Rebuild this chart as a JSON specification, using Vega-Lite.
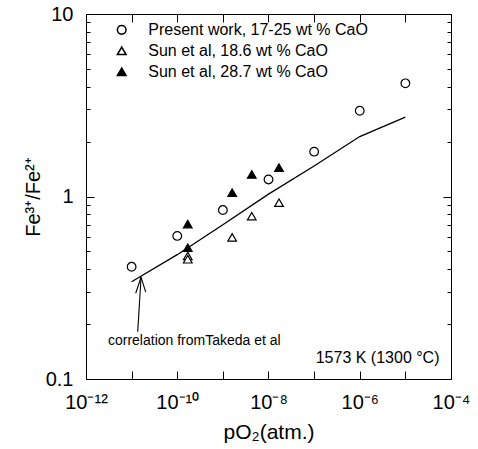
{
  "$schema": "https://vega.github.io/schema/vega-lite/v6.json",
  "width": 365,
  "height": 365,
  "autosize": {"type": "none"},
  "padding": {"left": 86, "top": 14, "right": 27, "bottom": 70},
  "background": "white",
  "config": {
    "font": "Liberation Sans",
    "view": {"stroke": "black", "strokeWidth": 1},
    "axis": {
      "domain": false,
      "grid": false,
      "tickColor": "black",
      "tickWidth": 1,
      "labelColor": "black",
      "titleColor": "black",
      "labelFont": "Liberation Sans",
      "titleFont": "Liberation Sans",
      "titleFontWeight": "normal",
      "labelFontSize": 20,
      "titleFontSize": 20,
      "labelFlush": false,
      "labelOverlap": false
    }
  },
  "datasets": {
    "takeda": [
      {"po2": 1e-11, "ratio": 0.341},
      {"po2": 1e-10, "ratio": 0.48},
      {"po2": 1e-9, "ratio": 0.70},
      {"po2": 1e-8, "ratio": 1.03},
      {"po2": 1e-7, "ratio": 1.47},
      {"po2": 1e-6, "ratio": 2.13},
      {"po2": 1e-5, "ratio": 2.72}
    ],
    "points": [
      {"po2": 1e-11, "ratio": 0.412, "series": "Present work, 17-25 wt % CaO"},
      {"po2": 1e-10, "ratio": 0.608, "series": "Present work, 17-25 wt % CaO"},
      {"po2": 1e-9, "ratio": 0.843, "series": "Present work, 17-25 wt % CaO"},
      {"po2": 1e-8, "ratio": 1.24, "series": "Present work, 17-25 wt % CaO"},
      {"po2": 1e-7, "ratio": 1.76, "series": "Present work, 17-25 wt % CaO"},
      {"po2": 1e-6, "ratio": 2.95, "series": "Present work, 17-25 wt % CaO"},
      {"po2": 1e-5, "ratio": 4.17, "series": "Present work, 17-25 wt % CaO"},
      {"po2": 1.7e-10, "ratio": 0.472, "series": "Sun et al, 18.6 wt % CaO"},
      {"po2": 1.7e-10, "ratio": 0.453, "series": "Sun et al, 18.6 wt % CaO"},
      {"po2": 1.6e-9, "ratio": 0.597, "series": "Sun et al, 18.6 wt % CaO"},
      {"po2": 4.3e-9, "ratio": 0.78, "series": "Sun et al, 18.6 wt % CaO"},
      {"po2": 1.7e-8, "ratio": 0.925, "series": "Sun et al, 18.6 wt % CaO"},
      {"po2": 1.7e-10, "ratio": 0.524, "series": "Sun et al, 28.7 wt % CaO"},
      {"po2": 1.7e-10, "ratio": 0.706, "series": "Sun et al, 28.7 wt % CaO"},
      {"po2": 1.6e-9, "ratio": 1.05, "series": "Sun et al, 28.7 wt % CaO"},
      {"po2": 4.3e-9, "ratio": 1.32, "series": "Sun et al, 28.7 wt % CaO"},
      {"po2": 1.7e-8, "ratio": 1.44, "series": "Sun et al, 28.7 wt % CaO"}
    ],
    "arrow": [
      {"x": 1.36e-11, "y": 0.1816, "x2": 1.61e-11, "y2": 0.361},
      {"x": 1.23e-11, "y": 0.295, "x2": 1.61e-11, "y2": 0.361},
      {"x": 2.04e-11, "y": 0.299, "x2": 1.61e-11, "y2": 0.361}
    ],
    "notes": [
      {"po2": 3.03e-12, "ratio": 0.162, "label": "correlation fromTakeda et al"}
    ],
    "temp": [
      {"po2": 5.6e-5, "ratio": 0.131, "label": "1573 K (1300 °C)"}
    ]
  },
  "layer": [
    {
      "data": {"name": "takeda"},
      "mark": {"type": "line", "color": "black", "strokeWidth": 1.3},
      "encoding": {
        "x": {
          "field": "po2", "type": "quantitative",
          "scale": {"type": "log", "domain": [1e-12, 1e-4], "nice": false},
          "axis": {
            "orient": "bottom",
            "title": "pO₂(atm.)",
            "titleFontSize": 21,
            "titlePadding": 9,
            "values": [1e-12, 1e-11, 1e-10, 1e-9, 1e-8, 1e-7, 1e-6, 1e-5, 1e-4],
            "tickSize": -8,
            "labelPadding": 21,
            "labelExpr": "round(log(datum.value)/LN10) == -12 ? '10⁻¹²' : round(log(datum.value)/LN10) == -10 ? '10⁻¹⁰' : round(log(datum.value)/LN10) == -8 ? '10⁻⁸' : round(log(datum.value)/LN10) == -6 ? '10⁻⁶' : round(log(datum.value)/LN10) == -4 ? '10⁻⁴' : ''"
          }
        },
        "y": {
          "field": "ratio", "type": "quantitative",
          "scale": {"type": "log", "domain": [0.1, 10], "nice": false},
          "axis": {
            "orient": "left",
            "title": "Fe³⁺/Fe²⁺",
            "titlePadding": 2,
            "values": [0.1, 1, 10],
            "tickSize": -8,
            "labelPadding": 21,
            "labelExpr": "datum.value < 0.5 ? '0.1' : datum.value < 5 ? '1' : '10'"
          }
        }
      }
    },
    {
      "data": {"name": "points"},
      "mark": {"type": "point", "filled": true, "stroke": "black", "strokeWidth": 1.2, "size": 75, "opacity": 1},
      "encoding": {
        "x": {
          "field": "po2", "type": "quantitative",
          "scale": {"type": "log", "domain": [1e-12, 1e-4], "nice": false},
          "axis": {
            "orient": "top",
            "title": null,
            "labels": false,
            "values": [1e-12, 1e-11, 1e-10, 1e-9, 1e-8, 1e-7, 1e-6, 1e-5, 1e-4],
            "tickSize": -8
          }
        },
        "y": {
          "field": "ratio", "type": "quantitative",
          "scale": {"type": "log", "domain": [0.1, 10], "nice": false},
          "axis": {
            "orient": "left",
            "title": null,
            "labels": false,
            "values": [0.2, 0.3, 0.4, 0.5, 0.6, 0.7, 0.8, 0.9, 2, 3, 4, 5, 6, 7, 8, 9],
            "tickSize": -4
          }
        },
        "shape": {
          "field": "series", "type": "nominal",
          "scale": {
            "domain": ["Present work, 17-25 wt % CaO", "Sun et al, 18.6 wt % CaO", "Sun et al, 28.7 wt % CaO"],
            "range": ["circle", "triangle-up", "triangle-up"]
          },
          "legend": {
            "orient": "none", "legendX": 27.7, "legendY": 7.8, "title": null,
            "labelFontSize": 16, "labelFont": "Liberation Sans", "labelColor": "black", "labelLimit": 0,
            "symbolSize": 75, "labelOffset": 18.6, "rowPadding": 5, "padding": 0,
            "encode": {"symbols": {"update": {"stroke": {"value": "black"}, "strokeWidth": {"value": 1.2}}}}
          }
        },
        "fill": {
          "field": "series", "type": "nominal",
          "scale": {
            "domain": ["Present work, 17-25 wt % CaO", "Sun et al, 18.6 wt % CaO", "Sun et al, 28.7 wt % CaO"],
            "range": ["white", "white", "black"]
          },
          "legend": {
            "orient": "none", "legendX": 27.7, "legendY": 7.8, "title": null,
            "labelFontSize": 16, "labelFont": "Liberation Sans", "labelColor": "black", "labelLimit": 0,
            "symbolSize": 75, "labelOffset": 18.6, "rowPadding": 5, "padding": 0,
            "encode": {"symbols": {"update": {"stroke": {"value": "black"}, "strokeWidth": {"value": 1.2}}}}
          }
        }
      }
    },
    {
      "data": {"name": "arrow"},
      "mark": {"type": "rule", "color": "black", "strokeWidth": 1.1},
      "encoding": {
        "x": {
          "field": "x", "type": "quantitative",
          "scale": {"type": "log", "domain": [1e-12, 1e-4], "nice": false},
          "axis": null
        },
        "x2": {"field": "x2"},
        "y": {
          "field": "y", "type": "quantitative",
          "scale": {"type": "log", "domain": [0.1, 10], "nice": false},
          "axis": {
            "orient": "right",
            "title": null,
            "labels": false,
            "values": [0.1, 1, 10],
            "tickSize": -8
          }
        },
        "y2": {"field": "y2"}
      }
    },
    {
      "data": {"name": "notes"},
      "mark": {"type": "text", "align": "left", "baseline": "middle", "fontSize": 14, "color": "black", "font": "Liberation Sans"},
      "encoding": {
        "x": {
          "field": "po2", "type": "quantitative",
          "scale": {"type": "log", "domain": [1e-12, 1e-4], "nice": false},
          "axis": null
        },
        "y": {
          "field": "ratio", "type": "quantitative",
          "scale": {"type": "log", "domain": [0.1, 10], "nice": false},
          "axis": {
            "orient": "right",
            "title": null,
            "labels": false,
            "values": [0.2, 0.3, 0.4, 0.5, 0.6, 0.7, 0.8, 0.9, 2, 3, 4, 5, 6, 7, 8, 9],
            "tickSize": -4
          }
        },
        "text": {"field": "label"}
      }
    },
    {
      "data": {"name": "temp"},
      "mark": {"type": "text", "align": "right", "baseline": "middle", "fontSize": 16, "color": "black", "font": "Liberation Sans"},
      "encoding": {
        "x": {
          "field": "po2", "type": "quantitative",
          "scale": {"type": "log", "domain": [1e-12, 1e-4], "nice": false},
          "axis": null
        },
        "y": {
          "field": "ratio", "type": "quantitative",
          "scale": {"type": "log", "domain": [0.1, 10], "nice": false},
          "axis": null
        },
        "text": {"field": "label"}
      }
    }
  ],
  "resolve": {"axis": {"x": "independent", "y": "independent"}}
}
